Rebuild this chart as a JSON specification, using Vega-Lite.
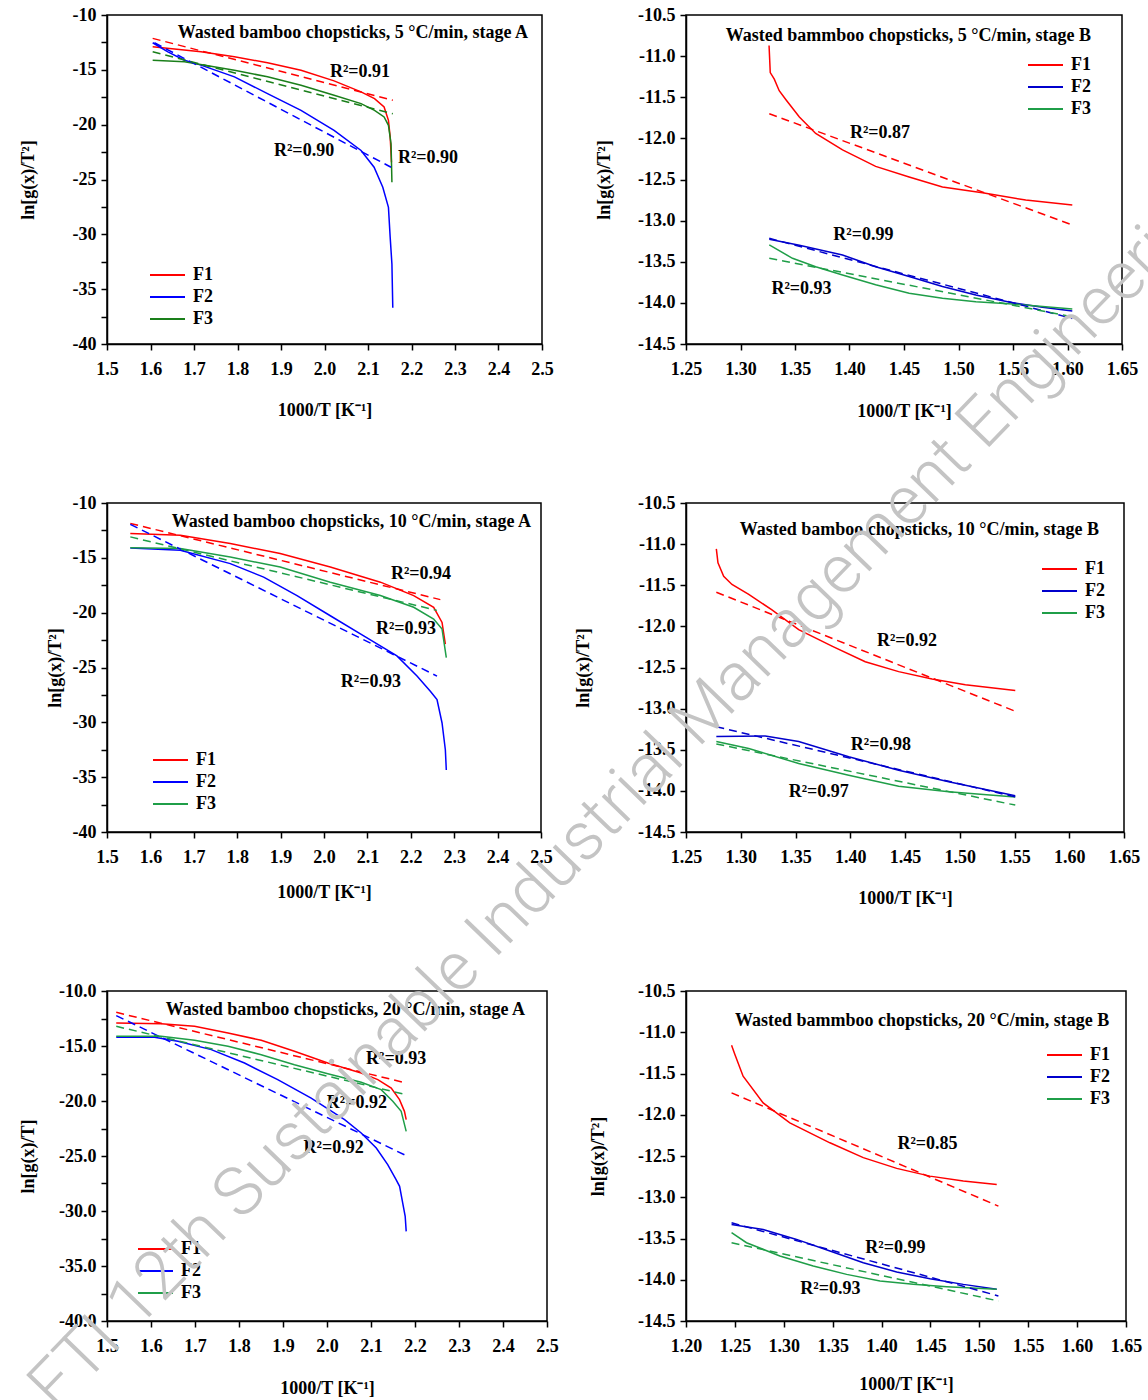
{
"$schema": "https://vega.github.io/schema/vega-lite/v6.json",
"autosize": {"type": "none"},
"padding": {"left": 107, "top": 15, "right": 1041, "bottom": 1385},
"background": "white",
"columns": 2,
"bounds": "flush",
"spacing": {"row": 159, "column": 139},
"resolve": {"scale": {"color": "independent", "x": "independent", "y": "independent"}, "legend": {"color": "independent"}},
"datasets": {
"d1": [
{"s":"F1","k":"c","x":1.605,"y":-12.9},{"s":"F1","k":"c","x":1.716,"y":-13.36},{"s":"F1","k":"c","x":1.793,"y":-13.81},{"s":"F1","k":"c","x":1.869,"y":-14.36},{"s":"F1","k":"c","x":1.946,"y":-15.03},{"s":"F1","k":"c","x":2.022,"y":-16.01},{"s":"F1","k":"c","x":2.084,"y":-17.01},{"s":"F1","k":"c","x":2.115,"y":-17.63},{"s":"F1","k":"c","x":2.137,"y":-18.39},{"s":"F1","k":"c","x":2.147,"y":-19.61},{"s":"F1","k":"c","x":2.151,"y":-21.13},{"s":"F1","k":"c","x":2.154,"y":-23.42},
{"s":"F2","k":"c","x":1.605,"y":-12.53},{"s":"F2","k":"c","x":1.64,"y":-13.36},{"s":"F2","k":"c","x":1.678,"y":-14.12},{"s":"F2","k":"c","x":1.716,"y":-14.57},{"s":"F2","k":"c","x":1.793,"y":-15.64},{"s":"F2","k":"c","x":1.869,"y":-17.17},{"s":"F2","k":"c","x":1.946,"y":-18.69},{"s":"F2","k":"c","x":2.022,"y":-20.52},{"s":"F2","k":"c","x":2.084,"y":-22.35},{"s":"F2","k":"c","x":2.114,"y":-23.88},{"s":"F2","k":"c","x":2.134,"y":-25.71},{"s":"F2","k":"c","x":2.147,"y":-27.54},{"s":"F2","k":"c","x":2.151,"y":-30.28},{"s":"F2","k":"c","x":2.155,"y":-32.72},{"s":"F2","k":"c","x":2.157,"y":-36.69},
{"s":"F3","k":"c","x":1.605,"y":-14.12},{"s":"F3","k":"c","x":1.678,"y":-14.27},{"s":"F3","k":"c","x":1.793,"y":-15.03},{"s":"F3","k":"c","x":1.869,"y":-15.64},{"s":"F3","k":"c","x":1.946,"y":-16.4},{"s":"F3","k":"c","x":2.022,"y":-17.32},{"s":"F3","k":"c","x":2.084,"y":-18.08},{"s":"F3","k":"c","x":2.115,"y":-18.69},{"s":"F3","k":"c","x":2.137,"y":-19.3},{"s":"F3","k":"c","x":2.147,"y":-20.06},{"s":"F3","k":"c","x":2.153,"y":-21.74},{"s":"F3","k":"c","x":2.155,"y":-25.25},
{"s":"F1","k":"f","x":1.605,"y":-12.13},{"s":"F1","k":"f","x":2.157,"y":-17.78},
{"s":"F2","k":"f","x":1.609,"y":-12.53},{"s":"F2","k":"f","x":2.153,"y":-23.88},
{"s":"F3","k":"f","x":1.605,"y":-13.36},{"s":"F3","k":"f","x":2.157,"y":-19.0}
],
"r1": [{"x":2.0816,"y":-15.21,"t":"R²=0.91"},{"x":1.953,"y":-22.44,"t":"R²=0.90"},{"x":2.238,"y":-23.08,"t":"R²=0.90"}],
"d2": [
{"s":"F1","k":"c","x":1.3262,"y":-10.87},{"s":"F1","k":"c","x":1.3268,"y":-11.05},{"s":"F1","k":"c","x":1.3273,"y":-11.2},{"s":"F1","k":"c","x":1.331,"y":-11.28},{"s":"F1","k":"c","x":1.3355,"y":-11.42},{"s":"F1","k":"c","x":1.3417,"y":-11.53},{"s":"F1","k":"c","x":1.354,"y":-11.74},{"s":"F1","k":"c","x":1.369,"y":-11.94},{"s":"F1","k":"c","x":1.3936,"y":-12.14},{"s":"F1","k":"c","x":1.424,"y":-12.34},{"s":"F1","k":"c","x":1.4547,"y":-12.47},{"s":"F1","k":"c","x":1.4853,"y":-12.59},{"s":"F1","k":"c","x":1.522,"y":-12.66},{"s":"F1","k":"c","x":1.5617,"y":-12.75},{"s":"F1","k":"c","x":1.6044,"y":-12.81},
{"s":"F2","k":"c","x":1.3264,"y":-13.227},{"s":"F2","k":"c","x":1.354,"y":-13.3},{"s":"F2","k":"c","x":1.3936,"y":-13.418},{"s":"F2","k":"c","x":1.424,"y":-13.56},{"s":"F2","k":"c","x":1.4547,"y":-13.68},{"s":"F2","k":"c","x":1.4853,"y":-13.8},{"s":"F2","k":"c","x":1.5159,"y":-13.904},{"s":"F2","k":"c","x":1.5494,"y":-13.998},{"s":"F2","k":"c","x":1.577,"y":-14.054},{"s":"F2","k":"c","x":1.6044,"y":-14.1},
{"s":"F3","k":"c","x":1.3264,"y":-13.296},{"s":"F3","k":"c","x":1.3477,"y":-13.458},{"s":"F3","k":"c","x":1.369,"y":-13.56},{"s":"F3","k":"c","x":1.3936,"y":-13.66},{"s":"F3","k":"c","x":1.424,"y":-13.78},{"s":"F3","k":"c","x":1.4547,"y":-13.884},{"s":"F3","k":"c","x":1.4853,"y":-13.944},{"s":"F3","k":"c","x":1.5159,"y":-13.986},{"s":"F3","k":"c","x":1.5494,"y":-14.014},{"s":"F3","k":"c","x":1.6044,"y":-14.075},
{"s":"F1","k":"f","x":1.3264,"y":-11.7},{"s":"F1","k":"f","x":1.6044,"y":-13.053},
{"s":"F2","k":"f","x":1.3264,"y":-13.215},{"s":"F2","k":"f","x":1.6044,"y":-14.19},
{"s":"F3","k":"f","x":1.3264,"y":-13.458},{"s":"F3","k":"f","x":1.6044,"y":-14.168}
],
"r2": [{"x":1.428,"y":-11.94,"t":"R²=0.87"},{"x":1.4127,"y":-13.18,"t":"R²=0.99"},{"x":1.356,"y":-13.83,"t":"R²=0.93"}],
"d3": [
{"s":"F1","k":"c","x":1.5537,"y":-12.78},{"s":"F1","k":"c","x":1.669,"y":-12.94},{"s":"F1","k":"c","x":1.784,"y":-13.7},{"s":"F1","k":"c","x":1.899,"y":-14.61},{"s":"F1","k":"c","x":2.0145,"y":-15.84},{"s":"F1","k":"c","x":2.13,"y":-17.22},{"s":"F1","k":"c","x":2.2067,"y":-18.44},{"s":"F1","k":"c","x":2.2527,"y":-19.51},{"s":"F1","k":"c","x":2.272,"y":-20.89},{"s":"F1","k":"c","x":2.2796,"y":-22.87},
{"s":"F2","k":"c","x":1.5537,"y":-14.1},{"s":"F2","k":"c","x":1.669,"y":-14.31},{"s":"F2","k":"c","x":1.784,"y":-15.53},{"s":"F2","k":"c","x":1.861,"y":-16.76},{"s":"F2","k":"c","x":1.9378,"y":-18.44},{"s":"F2","k":"c","x":2.0145,"y":-20.28},{"s":"F2","k":"c","x":2.0915,"y":-22.11},{"s":"F2","k":"c","x":2.168,"y":-23.94},{"s":"F2","k":"c","x":2.2143,"y":-25.78},{"s":"F2","k":"c","x":2.245,"y":-27.16},{"s":"F2","k":"c","x":2.2604,"y":-27.92},{"s":"F2","k":"c","x":2.272,"y":-30.06},{"s":"F2","k":"c","x":2.2796,"y":-32.5},{"s":"F2","k":"c","x":2.2818,"y":-34.34},
{"s":"F3","k":"c","x":1.5537,"y":-14.07},{"s":"F3","k":"c","x":1.669,"y":-14.16},{"s":"F3","k":"c","x":1.784,"y":-14.92},{"s":"F3","k":"c","x":1.899,"y":-15.84},{"s":"F3","k":"c","x":2.0145,"y":-17.22},{"s":"F3","k":"c","x":2.13,"y":-18.44},{"s":"F3","k":"c","x":2.2067,"y":-19.51},{"s":"F3","k":"c","x":2.2527,"y":-20.58},{"s":"F3","k":"c","x":2.272,"y":-21.5},{"s":"F3","k":"c","x":2.2818,"y":-24.1},
{"s":"F1","k":"f","x":1.5537,"y":-11.86},{"s":"F1","k":"f","x":2.268,"y":-18.81},
{"s":"F2","k":"f","x":1.5537,"y":-11.95},{"s":"F2","k":"f","x":2.2604,"y":-25.78},
{"s":"F3","k":"f","x":1.5537,"y":-13.09},{"s":"F3","k":"f","x":2.26,"y":-19.79}
],
"r3": [{"x":2.2235,"y":-16.45,"t":"R²=0.94"},{"x":2.189,"y":-21.47,"t":"R²=0.93"},{"x":2.108,"y":-26.33,"t":"R²=0.93"}],
"d4": [
{"s":"F1","k":"c","x":1.2777,"y":-11.057},{"s":"F1","k":"c","x":1.2792,"y":-11.228},{"s":"F1","k":"c","x":1.2844,"y":-11.39},{"s":"F1","k":"c","x":1.292,"y":-11.49},{"s":"F1","k":"c","x":1.3073,"y":-11.61},{"s":"F1","k":"c","x":1.3285,"y":-11.8},{"s":"F1","k":"c","x":1.3529,"y":-12.04},{"s":"F1","k":"c","x":1.3833,"y":-12.24},{"s":"F1","k":"c","x":1.4137,"y":-12.43},{"s":"F1","k":"c","x":1.4442,"y":-12.55},{"s":"F1","k":"c","x":1.4747,"y":-12.64},{"s":"F1","k":"c","x":1.5051,"y":-12.71},{"s":"F1","k":"c","x":1.5507,"y":-12.78},
{"s":"F2","k":"c","x":1.2777,"y":-13.34},{"s":"F2","k":"c","x":1.3224,"y":-13.333},{"s":"F2","k":"c","x":1.3529,"y":-13.4},{"s":"F2","k":"c","x":1.3986,"y":-13.585},{"s":"F2","k":"c","x":1.4442,"y":-13.748},{"s":"F2","k":"c","x":1.4899,"y":-13.89},{"s":"F2","k":"c","x":1.5507,"y":-14.06},
{"s":"F3","k":"c","x":1.2777,"y":-13.4},{"s":"F3","k":"c","x":1.3073,"y":-13.484},{"s":"F3","k":"c","x":1.3529,"y":-13.667},{"s":"F3","k":"c","x":1.3986,"y":-13.81},{"s":"F3","k":"c","x":1.4442,"y":-13.943},{"s":"F3","k":"c","x":1.4899,"y":-14.012},{"s":"F3","k":"c","x":1.5507,"y":-14.073},
{"s":"F1","k":"f","x":1.2777,"y":-11.585},{"s":"F1","k":"f","x":1.5516,"y":-13.037},
{"s":"F2","k":"f","x":1.2777,"y":-13.22},{"s":"F2","k":"f","x":1.5507,"y":-14.073},
{"s":"F3","k":"f","x":1.2777,"y":-13.43},{"s":"F3","k":"f","x":1.5507,"y":-14.173}
],
"r4": [{"x":1.4518,"y":-12.183,"t":"R²=0.92"},{"x":1.428,"y":-13.44,"t":"R²=0.98"},{"x":1.3712,"y":-14.012,"t":"R²=0.97"}],
"d5": [
{"s":"F1","k":"c","x":1.521,"y":-12.91},{"s":"F1","k":"c","x":1.623,"y":-12.97},{"s":"F1","k":"c","x":1.699,"y":-13.21},{"s":"F1","k":"c","x":1.775,"y":-13.82},{"s":"F1","k":"c","x":1.8505,"y":-14.48},{"s":"F1","k":"c","x":1.926,"y":-15.48},{"s":"F1","k":"c","x":2.0018,"y":-16.55},{"s":"F1","k":"c","x":2.0777,"y":-17.45},{"s":"F1","k":"c","x":2.1155,"y":-18.06},{"s":"F1","k":"c","x":2.146,"y":-18.82},{"s":"F1","k":"c","x":2.1648,"y":-19.88},{"s":"F1","k":"c","x":2.176,"y":-20.94},{"s":"F1","k":"c","x":2.18,"y":-21.7},
{"s":"F2","k":"c","x":1.521,"y":-14.2},{"s":"F2","k":"c","x":1.608,"y":-14.21},{"s":"F2","k":"c","x":1.661,"y":-14.57},{"s":"F2","k":"c","x":1.737,"y":-15.33},{"s":"F2","k":"c","x":1.8125,"y":-16.55},{"s":"F2","k":"c","x":1.888,"y":-18.06},{"s":"F2","k":"c","x":1.964,"y":-19.73},{"s":"F2","k":"c","x":2.04,"y":-21.7},{"s":"F2","k":"c","x":2.0777,"y":-22.91},{"s":"F2","k":"c","x":2.112,"y":-24.27},{"s":"F2","k":"c","x":2.138,"y":-25.79},{"s":"F2","k":"c","x":2.157,"y":-27.15},{"s":"F2","k":"c","x":2.165,"y":-27.76},{"s":"F2","k":"c","x":2.172,"y":-29.27},{"s":"F2","k":"c","x":2.1777,"y":-30.48},{"s":"F2","k":"c","x":2.18,"y":-31.85},
{"s":"F3","k":"c","x":1.521,"y":-14.12},{"s":"F3","k":"c","x":1.623,"y":-14.12},{"s":"F3","k":"c","x":1.699,"y":-14.48},{"s":"F3","k":"c","x":1.775,"y":-15.03},{"s":"F3","k":"c","x":1.8505,"y":-15.79},{"s":"F3","k":"c","x":1.926,"y":-16.7},{"s":"F3","k":"c","x":2.0018,"y":-17.52},{"s":"F3","k":"c","x":2.0777,"y":-18.3},{"s":"F3","k":"c","x":2.123,"y":-18.97},{"s":"F3","k":"c","x":2.1495,"y":-20.03},{"s":"F3","k":"c","x":2.1686,"y":-20.94},{"s":"F3","k":"c","x":2.18,"y":-22.76},
{"s":"F1","k":"f","x":1.521,"y":-11.94},{"s":"F1","k":"f","x":2.18,"y":-18.36},
{"s":"F2","k":"f","x":1.521,"y":-12.24},{"s":"F2","k":"f","x":2.18,"y":-24.97},
{"s":"F3","k":"f","x":1.521,"y":-13.21},{"s":"F3","k":"f","x":2.18,"y":-19.43}
],
"r5": [{"x":2.157,"y":-16.18,"t":"R²=0.93"},{"x":2.068,"y":-20.15,"t":"R²=0.92"},{"x":2.015,"y":-24.23,"t":"R²=0.92"}],
"d6": [
{"s":"F1","k":"c","x":1.2466,"y":-11.157},{"s":"F1","k":"c","x":1.25,"y":-11.27},{"s":"F1","k":"c","x":1.2584,"y":-11.533},{"s":"F1","k":"c","x":1.2789,"y":-11.856},{"s":"F1","k":"c","x":1.3062,"y":-12.098},{"s":"F1","k":"c","x":1.3472,"y":-12.34},{"s":"F1","k":"c","x":1.3813,"y":-12.52},{"s":"F1","k":"c","x":1.4155,"y":-12.65},{"s":"F1","k":"c","x":1.4495,"y":-12.744},{"s":"F1","k":"c","x":1.4836,"y":-12.804},{"s":"F1","k":"c","x":1.5178,"y":-12.845},
{"s":"F2","k":"c","x":1.2466,"y":-13.329},{"s":"F2","k":"c","x":1.2789,"y":-13.39},{"s":"F2","k":"c","x":1.3131,"y":-13.511},{"s":"F2","k":"c","x":1.3472,"y":-13.652},{"s":"F2","k":"c","x":1.3813,"y":-13.793},{"s":"F2","k":"c","x":1.4155,"y":-13.906},{"s":"F2","k":"c","x":1.4495,"y":-13.987},{"s":"F2","k":"c","x":1.4836,"y":-14.056},{"s":"F2","k":"c","x":1.5178,"y":-14.116},
{"s":"F3","k":"c","x":1.2466,"y":-13.43},{"s":"F3","k":"c","x":1.2619,"y":-13.551},{"s":"F3","k":"c","x":1.296,"y":-13.712},{"s":"F3","k":"c","x":1.3301,"y":-13.833},{"s":"F3","k":"c","x":1.3643,"y":-13.935},{"s":"F3","k":"c","x":1.3984,"y":-14.015},{"s":"F3","k":"c","x":1.4324,"y":-14.056},{"s":"F3","k":"c","x":1.4666,"y":-14.084},{"s":"F3","k":"c","x":1.5178,"y":-14.116},
{"s":"F1","k":"f","x":1.2466,"y":-11.735},{"s":"F1","k":"f","x":1.5195,"y":-13.107},
{"s":"F2","k":"f","x":1.2466,"y":-13.31},{"s":"F2","k":"f","x":1.5195,"y":-14.196},
{"s":"F3","k":"f","x":1.2466,"y":-13.551},{"s":"F3","k":"f","x":1.5195,"y":-14.257}
],
"r6": [{"x":1.447,"y":-12.36,"t":"R²=0.85"},{"x":1.4142,"y":-13.61,"t":"R²=0.99"},{"x":1.3477,"y":-14.116,"t":"R²=0.93"},{"x":1.4414,"y":-10.86,"t":"Wasted bammboo chopsticks, 20 °C/min, stage B"}],
"w": [{"x":1.0947,"y":-8.658,"t":"The FTI 12th Sustainable Industrial Management Engineering"}]
},
"concat": [
{
"width": 435, "height": 329,
"title": {"text": "Wasted bamboo chopsticks, 5 °C/min, stage A", "anchor": "end", "frame": "group", "baseline": "middle", "offset": -45, "dx": -14},
"encoding": {
"x": {"field": "x", "type": "quantitative", "scale": {"domain": [1.5, 2.5], "nice": false, "zero": false}, "axis": {"title": "1000/T [K\u207b\u00b9]", "values": [1.5,1.6,1.7,1.8,1.9,2.0,2.1,2.2,2.3,2.4,2.5], "format": ".1f", "titleY": 66}},
"y": {"field": "y", "type": "quantitative", "scale": {"domain": [-40, -10], "nice": false, "zero": false}, "axis": {"title": "ln[g(x)/T\u00b2]", "values": [-40,-37.5,-35,-32.5,-30,-27.5,-25,-22.5,-20,-17.5,-15,-12.5,-10], "labelExpr": "datum.value % 5 == 0 ? replace(format(datum.value, 'd'), '\u2212', '-') : ''", "titleX": -79}}
},
"layer": [
{"data": {"name": "d1"}, "transform": [{"filter": "datum.k == 'c'"}], "mark": {"type": "line", "strokeWidth": 1.5},
 "encoding": {"color": {"field": "s", "type": "nominal", "scale": {"domain": ["F1","F2","F3"], "range": ["#ff0000","#0000ff","#1a7f1a"]}, "legend": {"orient": "none", "legendX": 42, "legendY": 249, "direction": "vertical", "title": null, "symbolType": "stroke", "symbolSize": 1225, "symbolStrokeWidth": 2, "labelOffset": 7, "clipHeight": 22, "rowPadding": 0, "padding": 0}}}},
{"data": {"name": "d1"}, "transform": [{"filter": "datum.k == 'f'"}], "mark": {"type": "line", "strokeWidth": 1.5, "strokeDash": [8, 5]},
 "encoding": {"color": {"field": "s", "type": "nominal", "legend": null}}},
{"data": {"name": "r1"}, "mark": {"type": "text", "font": "Liberation Serif", "fontSize": 18, "fontWeight": "bold", "color": "black", "align": "center", "baseline": "middle"}, "encoding": {"text": {"field": "t"}}}
]
},
{
"width": 436, "height": 329,
"title": {"text": "Wasted bammboo chopsticks, 5 °C/min, stage B", "anchor": "end", "frame": "group", "baseline": "middle", "offset": -48, "dx": -31},
"encoding": {
"x": {"field": "x", "type": "quantitative", "scale": {"domain": [1.25, 1.65], "nice": false, "zero": false}, "axis": {"title": "1000/T [K\u207b\u00b9]", "values": [1.25,1.3,1.35,1.4,1.45,1.5,1.55,1.6,1.65], "format": ".2f", "titleY": 67}},
"y": {"field": "y", "type": "quantitative", "scale": {"domain": [-14.5, -10.5], "nice": false, "zero": false}, "axis": {"title": "ln[g(x)/T\u00b2]", "values": [-14.5,-14,-13.5,-13,-12.5,-12,-11.5,-11,-10.5], "labelExpr": "replace(format(datum.value, '.1f'), '\u2212', '-')", "titleX": -82}}
},
"layer": [
{"data": {"name": "d2"}, "transform": [{"filter": "datum.k == 'c'"}], "mark": {"type": "line", "strokeWidth": 1.5},
 "encoding": {"color": {"field": "s", "type": "nominal", "scale": {"domain": ["F1","F2","F3"], "range": ["#ff0000","#0000cc","#1f9e48"]}, "legend": {"orient": "none", "legendX": 341, "legendY": 39, "direction": "vertical", "title": null, "symbolType": "stroke", "symbolSize": 1225, "symbolStrokeWidth": 2, "labelOffset": 7, "clipHeight": 22, "rowPadding": 0, "padding": 0}}}},
{"data": {"name": "d2"}, "transform": [{"filter": "datum.k == 'f'"}], "mark": {"type": "line", "strokeWidth": 1.5, "strokeDash": [8, 5]},
 "encoding": {"color": {"field": "s", "type": "nominal", "legend": null}}},
{"data": {"name": "r2"}, "mark": {"type": "text", "font": "Liberation Serif", "fontSize": 18, "fontWeight": "bold", "color": "black", "align": "center", "baseline": "middle"}, "encoding": {"text": {"field": "t"}}}
]
},
{
"width": 434, "height": 329,
"title": {"text": "Wasted bamboo chopsticks, 10 °C/min, stage A", "anchor": "end", "frame": "group", "baseline": "middle", "offset": -46, "dx": -10},
"encoding": {
"x": {"field": "x", "type": "quantitative", "scale": {"domain": [1.5, 2.5], "nice": false, "zero": false}, "axis": {"title": "1000/T [K\u207b\u00b9]", "values": [1.5,1.6,1.7,1.8,1.9,2.0,2.1,2.2,2.3,2.4,2.5], "format": ".1f", "titleY": 60}},
"y": {"field": "y", "type": "quantitative", "scale": {"domain": [-40, -10], "nice": false, "zero": false}, "axis": {"title": "ln[g(x)/T\u00b2]", "values": [-40,-37.5,-35,-32.5,-30,-27.5,-25,-22.5,-20,-17.5,-15,-12.5,-10], "labelExpr": "datum.value % 5 == 0 ? replace(format(datum.value, 'd'), '\u2212', '-') : ''", "titleX": -52}}
},
"layer": [
{"data": {"name": "d3"}, "transform": [{"filter": "datum.k == 'c'"}], "mark": {"type": "line", "strokeWidth": 1.5},
 "encoding": {"color": {"field": "s", "type": "nominal", "scale": {"domain": ["F1","F2","F3"], "range": ["#ff0000","#0000ff","#1f9e48"]}, "legend": {"orient": "none", "legendX": 45, "legendY": 246, "direction": "vertical", "title": null, "symbolType": "stroke", "symbolSize": 1225, "symbolStrokeWidth": 2, "labelOffset": 7, "clipHeight": 22, "rowPadding": 0, "padding": 0}}}},
{"data": {"name": "d3"}, "transform": [{"filter": "datum.k == 'f'"}], "mark": {"type": "line", "strokeWidth": 1.5, "strokeDash": [8, 5]},
 "encoding": {"color": {"field": "s", "type": "nominal", "legend": null}}},
{"data": {"name": "r3"}, "mark": {"type": "text", "font": "Liberation Serif", "fontSize": 18, "fontWeight": "bold", "color": "black", "align": "center", "baseline": "middle"}, "encoding": {"text": {"field": "t"}}}
]
},
{
"width": 438, "height": 329,
"title": {"text": "Wasted bamboo chopsticks, 10 °C/min, stage B", "anchor": "end", "frame": "group", "baseline": "middle", "offset": -54, "dx": -25},
"encoding": {
"x": {"field": "x", "type": "quantitative", "scale": {"domain": [1.25, 1.65], "nice": false, "zero": false}, "axis": {"title": "1000/T [K\u207b\u00b9]", "values": [1.25,1.3,1.35,1.4,1.45,1.5,1.55,1.6,1.65], "format": ".2f", "titleY": 66}},
"y": {"field": "y", "type": "quantitative", "scale": {"domain": [-14.5, -10.5], "nice": false, "zero": false}, "axis": {"title": "ln[g(x)/T\u00b2]", "values": [-14.5,-14,-13.5,-13,-12.5,-12,-11.5,-11,-10.5], "labelExpr": "replace(format(datum.value, '.1f'), '\u2212', '-')", "titleX": -103}}
},
"layer": [
{"data": {"name": "d4"}, "transform": [{"filter": "datum.k == 'c'"}], "mark": {"type": "line", "strokeWidth": 1.5},
 "encoding": {"color": {"field": "s", "type": "nominal", "scale": {"domain": ["F1","F2","F3"], "range": ["#ff0000","#0000cc","#1f9e48"]}, "legend": {"orient": "none", "legendX": 355, "legendY": 55, "direction": "vertical", "title": null, "symbolType": "stroke", "symbolSize": 1225, "symbolStrokeWidth": 2, "labelOffset": 7, "clipHeight": 22, "rowPadding": 0, "padding": 0}}}},
{"data": {"name": "d4"}, "transform": [{"filter": "datum.k == 'f'"}], "mark": {"type": "line", "strokeWidth": 1.5, "strokeDash": [8, 5]},
 "encoding": {"color": {"field": "s", "type": "nominal", "legend": null}}},
{"data": {"name": "r4"}, "mark": {"type": "text", "font": "Liberation Serif", "fontSize": 18, "fontWeight": "bold", "color": "black", "align": "center", "baseline": "middle"}, "encoding": {"text": {"field": "t"}}}
]
},
{
"width": 440, "height": 330,
"title": {"text": "Wasted bamboo chopsticks, 20 °C/min, stage A", "anchor": "end", "frame": "group", "baseline": "middle", "offset": -46, "dx": -22},
"encoding": {
"x": {"field": "x", "type": "quantitative", "scale": {"domain": [1.5, 2.5], "nice": false, "zero": false}, "axis": {"title": "1000/T [K\u207b\u00b9]", "values": [1.5,1.6,1.7,1.8,1.9,2.0,2.1,2.2,2.3,2.4,2.5], "format": ".1f", "titleY": 67}},
"y": {"field": "y", "type": "quantitative", "scale": {"domain": [-40, -10], "nice": false, "zero": false}, "axis": {"title": "ln[g(x)/T]", "values": [-40,-37.5,-35,-32.5,-30,-27.5,-25,-22.5,-20,-17.5,-15,-12.5,-10], "labelExpr": "datum.value % 5 == 0 ? replace(format(datum.value, '.1f'), '\u2212', '-') : ''", "titleX": -79}}
},
"layer": [
{"data": {"name": "d5"}, "transform": [{"filter": "datum.k == 'c'"}], "mark": {"type": "line", "strokeWidth": 1.5},
 "encoding": {"color": {"field": "s", "type": "nominal", "scale": {"domain": ["F1","F2","F3"], "range": ["#ff0000","#0000ff","#1f9e48"]}, "legend": {"orient": "none", "legendX": 30, "legendY": 247, "direction": "vertical", "title": null, "symbolType": "stroke", "symbolSize": 1225, "symbolStrokeWidth": 2, "labelOffset": 7, "clipHeight": 22, "rowPadding": 0, "padding": 0}}}},
{"data": {"name": "d5"}, "transform": [{"filter": "datum.k == 'f'"}], "mark": {"type": "line", "strokeWidth": 1.5, "strokeDash": [8, 5]},
 "encoding": {"color": {"field": "s", "type": "nominal", "legend": null}}},
{"data": {"name": "r5"}, "mark": {"type": "text", "font": "Liberation Serif", "fontSize": 18, "fontWeight": "bold", "color": "black", "align": "center", "baseline": "middle"}, "encoding": {"text": {"field": "t"}}}
]
},
{
"width": 440, "height": 330,
"encoding": {
"x": {"field": "x", "type": "quantitative", "scale": {"domain": [1.2, 1.65], "nice": false, "zero": false}, "axis": {"title": "1000/T [K\u207b\u00b9]", "values": [1.2,1.25,1.3,1.35,1.4,1.45,1.5,1.55,1.6,1.65], "format": ".2f", "titleY": 63}},
"y": {"field": "y", "type": "quantitative", "scale": {"domain": [-14.5, -10.5], "nice": false, "zero": false}, "axis": {"title": "ln[g(x)/T\u00b2]", "values": [-14.5,-14,-13.5,-13,-12.5,-12,-11.5,-11,-10.5], "labelExpr": "replace(format(datum.value, '.1f'), '\u2212', '-')", "titleX": -88}}
},
"layer": [
{"data": {"name": "d6"}, "transform": [{"filter": "datum.k == 'c'"}], "mark": {"type": "line", "strokeWidth": 1.5},
 "encoding": {"color": {"field": "s", "type": "nominal", "scale": {"domain": ["F1","F2","F3"], "range": ["#ff0000","#0000cc","#1f9e48"]}, "legend": {"orient": "none", "legendX": 360, "legendY": 53, "direction": "vertical", "title": null, "symbolType": "stroke", "symbolSize": 1225, "symbolStrokeWidth": 2, "labelOffset": 7, "clipHeight": 22, "rowPadding": 0, "padding": 0}}}},
{"data": {"name": "d6"}, "transform": [{"filter": "datum.k == 'f'"}], "mark": {"type": "line", "strokeWidth": 1.5, "strokeDash": [8, 5]},
 "encoding": {"color": {"field": "s", "type": "nominal", "legend": null}}},
{"data": {"name": "r6"}, "mark": {"type": "text", "font": "Liberation Serif", "fontSize": 18, "fontWeight": "bold", "color": "black", "align": "center", "baseline": "middle"}, "encoding": {"text": {"field": "t"}}},
{"data": {"name": "w"}, "mark": {"type": "text", "font": "Roboto", "fontWeight": 300, "fontSize": 68, "angle": -46, "align": "center", "baseline": "middle", "color": "#c4c4c4", "clip": false}, "encoding": {"text": {"field": "t"}}}
]
}
],
"config": {
"font": "Liberation Serif",
"view": {"stroke": "black", "strokeWidth": 1.5},
"title": {"font": "Liberation Serif", "fontSize": 18, "fontWeight": "bold", "color": "black"},
"axis": {"grid": false, "domainColor": "black", "domainWidth": 1.5, "tickColor": "black", "tickWidth": 1.5, "tickSize": 6, "labelFont": "Liberation Serif", "labelFontSize": 18, "labelFontWeight": "bold", "labelColor": "black", "titleFont": "Liberation Serif", "titleFontSize": 18, "titleFontWeight": "bold", "titleColor": "black", "labelFlush": false, "labelOverlap": false, "titleBaseline": "middle"},
"axisX": {"labelPadding": 10},
"axisY": {"labelPadding": 5},
"legend": {"labelFont": "Liberation Serif", "labelFontSize": 18, "labelFontWeight": "bold", "labelColor": "black"}
}
}
